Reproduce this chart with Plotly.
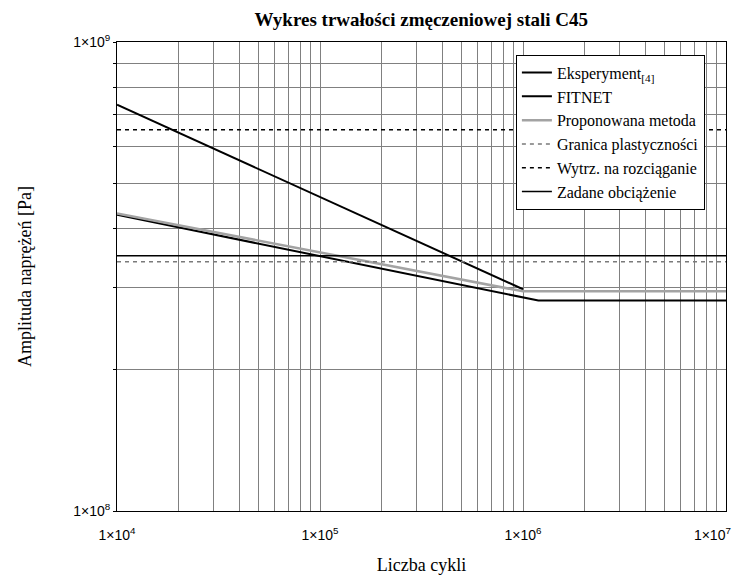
import plotly.graph_objects as go

# Fatigue life (S-N) data for C45 steel, log-log axes
n_exp = [1e4, 1e6]
s_exp = [7.35e8, 2.97e8]

n_fitnet = [1e4, 1.19e6, 1e7]
s_fitnet = [4.28e8, 2.81e8, 2.81e8]

n_prop = [1e4, 1e6, 1e7]
s_prop = [4.31e8, 2.94e8, 2.94e8]

n_range = [1e4, 1e7]
yield_strength = 3.4e8      # Granica plastyczności
tensile_strength = 6.5e8    # Wytrz. na rozciąganie
applied_load = 3.5e8        # Zadane obciążenie

x_decades = [1e4, 1e5, 1e6, 1e7]
x_tick_labels = ["1×10<sup>4</sup>", "1×10<sup>5</sup>", "1×10<sup>6</sup>",
                 "1×10<sup>7</sup>" + "&nbsp;" * 7]
y_decades = [1e8, 1e9]
y_tick_labels = ["1×10<sup>8</sup>", "1×10<sup>9</sup>"]

serif = "Liberation Serif"
sans = "Liberation Sans"

# grid positions: 1..9 within every decade
x_grid = [m * 10 ** e for e in range(4, 7) for m in range(1, 10)] + [1e7]
x_text = [x_tick_labels[x_decades.index(v)] if v in x_decades else "" for v in x_grid]
y_grid = [m * 1e8 for m in range(1, 10)] + [1e9]
y_text = [y_tick_labels[y_decades.index(v)] if v in y_decades else "" for v in y_grid]

fig = go.Figure()
fig.add_trace(go.Scatter(x=n_exp, y=s_exp, mode="lines", name="Eksperyment<sub>[4]</sub>",
                         line=dict(color="black", width=2)))
fig.add_trace(go.Scatter(x=n_fitnet, y=s_fitnet, mode="lines", name="FITNET",
                         line=dict(color="black", width=2)))
fig.add_trace(go.Scatter(x=n_prop, y=s_prop, mode="lines", name="Proponowana metoda",
                         line=dict(color="#a3a3a3", width=2.5)))
fig.add_trace(go.Scatter(x=n_range, y=[yield_strength] * 2, mode="lines",
                         name="Granica plastyczności",
                         line=dict(color="#7a7a7a", width=1.5, dash="4px,4px")))
fig.add_trace(go.Scatter(x=n_range, y=[tensile_strength] * 2, mode="lines",
                         name="Wytrz. na rozciąganie",
                         line=dict(color="black", width=1.5, dash="4px,4px")))
fig.add_trace(go.Scatter(x=n_range, y=[applied_load] * 2, mode="lines",
                         name="Zadane obciążenie",
                         line=dict(color="black", width=1.5)))

fig.update_layout(
    width=749, height=578,
    font=dict(family=serif, size=16, color="black"),
    margin=dict(l=117, r=23, t=42, b=67, autoexpand=False),
    paper_bgcolor="white", plot_bgcolor="white",
    title=dict(text="<b>Wykres trwałości zmęczeniowej stali C45</b>",
               x=0.5625, xanchor="center", y=0.967, yanchor="middle",
               font=dict(family=serif, size=19, color="black")),
    legend=dict(x=0.655, y=0.973, xanchor="left", yanchor="top",
                bgcolor="white", bordercolor="black", borderwidth=1,
                font=dict(family=serif, size=16, color="black"),
                tracegroupgap=0),
    showlegend=True,
)

fig.update_xaxes(
    type="log", range=[4, 7], automargin=False,
    tickmode="array", tickvals=x_grid, ticktext=x_text,
    ticks="", ticklabelstandoff=11, ticklabeloverflow="allow",
    tickfont=dict(family=sans, size=14, color="black"),
    showgrid=True, gridcolor="#808080", gridwidth=1,
    showline=True, linecolor="black", linewidth=1, mirror=True,
    zeroline=False,
    title=dict(text="Liczba cykli", font=dict(family=serif, size=18, color="black"),
               standoff=16),
)
fig.update_yaxes(
    type="log", range=[8, 9], automargin=False,
    tickmode="array", tickvals=y_grid, ticktext=y_text,
    ticks="outside", ticklen=3, tickcolor="black", ticklabeloverflow="allow",
    tickfont=dict(family=sans, size=14, color="black"),
    showgrid=True, gridcolor="#808080", gridwidth=1,
    showline=True, linecolor="black", linewidth=1, mirror=True,
    zeroline=False,
    title=dict(text="Amplituda naprężeń [Pa]",
               font=dict(family=serif, size=18, color="black"), standoff=36),
)

fig.write_html("out.html")
